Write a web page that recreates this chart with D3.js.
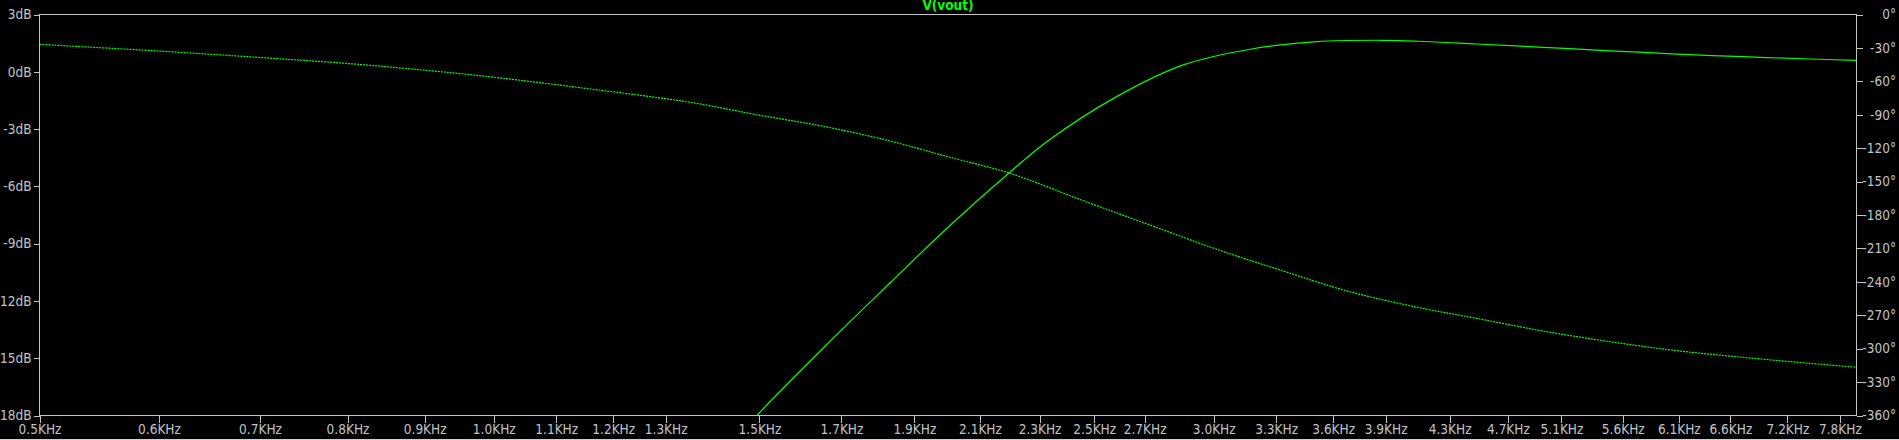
<!DOCTYPE html>
<html>
<head>
<meta charset="utf-8">
<script src="https://cdn.jsdelivr.net/npm/d3@7"></script>
<style>
  html, body { margin: 0; padding: 0; background: #000; overflow: hidden; }
  svg { display: block; }
  text { font-family: "DejaVu Sans Condensed", "DejaVu Sans", sans-serif; }
</style>
</head>
<body>
<svg id="chart" width="1899" height="440"></svg>
<script>
// ---------- data (frequencies in kHz) ----------
const magFreq = [1.46, 1.494, 1.654, 1.831, 2.006, 2.199, 2.336, 2.587, 2.864, 3.171, 3.511, 3.886, 4.105, 4.481, 4.961, 5.492, 6.082, 6.730, 7.451, 8.0];
const magDb   = [-18.9, -18.0, -14.45, -11.05, -8.05, -5.25, -3.55, -1.30, 0.36, 1.18, 1.58, 1.65, 1.60, 1.455, 1.28, 1.10, 0.93, 0.79, 0.67, 0.60];

const phaseFreq = [0.5, 0.6, 0.7, 0.8, 0.9, 1.0, 1.159, 1.349, 1.494, 1.654, 1.831, 2.006, 2.199, 2.459, 2.722, 3.014, 3.336, 3.693, 4.105, 4.481, 4.961, 5.492, 6.082, 6.730, 7.451, 8.0];
const phaseDeg  = [-26.8, -32.8, -38.6, -44.0, -50.0, -56.3, -66.9, -78.8, -90.0, -100.4, -113.6, -128.2, -142.6, -167.2, -189.0, -210.8, -230.3, -248.9, -263.2, -272.8, -284.2, -293.7, -301.8, -307.8, -313.2, -316.7];

const xTicks = [0.5, 0.6, 0.7, 0.8, 0.9, 1.0, 1.1, 1.2, 1.3, 1.5, 1.7, 1.9, 2.1, 2.3, 2.5, 2.7, 3.0, 3.3, 3.6, 3.9, 4.3, 4.7, 5.1, 5.6, 6.1, 6.6, 7.2, 7.8];
const dbTicks = [3, 0, -3, -6, -9, -12, -15, -18];
const phaseTicks = [0, -30, -60, -90, -120, -150, -180, -210, -240, -270, -300, -330, -360];
const title = "V(vout)";

// ---------- layout ----------
const L = 39.5, R = 1856.5, T = 14.5, B = 415.5;
const gridColor = "#c4c4c4";
const textColor = "#c0c4c8";
const traceColor = "#00ff00";

const svg = d3.select("#chart");
svg.append("rect").attr("width", 1899).attr("height", 440).attr("fill", "#000");

const x = d3.scaleLog().domain([0.5, 8]).range([L, R]);
const yDb = d3.scaleLinear().domain([-18, 3]).range([B, T]);
const yPh = d3.scaleLinear().domain([-360, 0]).range([B, T]);

svg.append("defs").append("clipPath").attr("id", "plotclip")
  .append("rect").attr("x", L).attr("y", T).attr("width", R - L).attr("height", B - T);

// axes
const fmtX = d => d.toFixed(1) + "KHz";
const xAxis = d3.axisBottom(x).tickValues(xTicks).tickFormat(fmtX).tickSize(7).tickPadding(2);
const gx = svg.append("g").attr("transform", `translate(0,${B})`).call(xAxis);

const yAxisL = d3.axisLeft(yDb).tickValues(dbTicks).tickFormat(d => d + "dB").tickSize(6).tickPadding(2);
const gl = svg.append("g").attr("transform", `translate(${L},0)`).call(yAxisL);

const yAxisR = d3.axisRight(yPh).tickValues(phaseTicks).tickFormat(d => d + "°").tickSize(6).tickPadding(2);
const gr = svg.append("g").attr("transform", `translate(${R},0)`).call(yAxisR);

[gx, gl, gr].forEach(g => {
  g.select(".domain").remove();
  g.selectAll(".tick line").attr("stroke", gridColor).attr("shape-rendering", "crispEdges");
  g.selectAll(".tick text").attr("fill", textColor).style("font-size", "13.5px");
});
gx.selectAll(".tick text").attr("dy", "0.72em");
// right labels are right-aligned at the window edge
gr.selectAll(".tick text").attr("text-anchor", "end").attr("x", 1896 - R);

// frame
svg.append("rect").attr("x", L).attr("y", T).attr("width", R - L).attr("height", B - T)
  .attr("fill", "none").attr("stroke", gridColor).attr("shape-rendering", "crispEdges");

// bottom window edge
svg.append("line").attr("x1", 0).attr("x2", 1899).attr("y1", 439.5).attr("y2", 439.5)
  .attr("stroke", "#d0d0d0");

// title
svg.append("text").attr("x", (L + R) / 2).attr("y", 10).attr("text-anchor", "middle")
  .attr("fill", traceColor).style("font-size", "13.5px").style("font-weight", "bold").text(title);

// traces
const plot = svg.append("g").attr("clip-path", "url(#plotclip)");

const magLine = d3.line().x(d => x(d[0])).y(d => yDb(d[1])).curve(d3.curveCatmullRom.alpha(0.5));
plot.append("path").datum(magFreq.map((f, i) => [f, magDb[i]]))
  .attr("d", magLine).attr("fill", "none").attr("stroke", traceColor).attr("stroke-width", 1.2);

const phLine = d3.line().x(d => x(d[0])).y(d => yPh(d[1])).curve(d3.curveCatmullRom.alpha(0.5));
plot.append("path").datum(phaseFreq.map((f, i) => [f, phaseDeg[i]]))
  .attr("d", phLine).attr("fill", "none").attr("stroke", traceColor).attr("stroke-width", 1.2)
  .attr("stroke-dasharray", "2,1");
</script>
</body>
</html>
